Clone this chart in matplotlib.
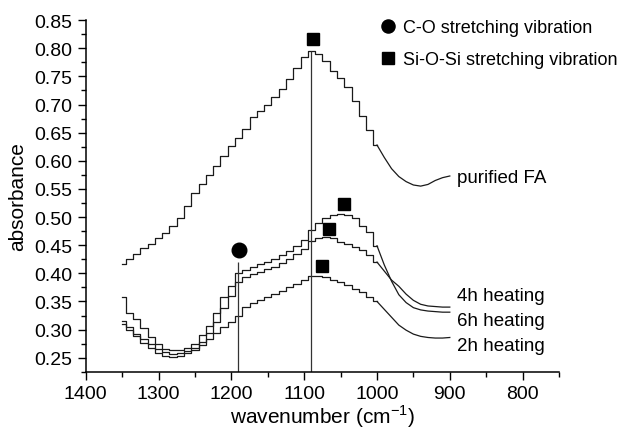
import numpy as np
import matplotlib
matplotlib.use('Agg')
from matplotlib import pyplot as plt
from matplotlib.ticker import MultipleLocator, FormatStrFormatter

plt.rcParams['font.family'] = ['Liberation Sans', 'DejaVu Sans']

# wavenumbers, 1350 -> 900 every 10 cm-1
wavenumber = np.arange(1350, 899, -10)

purified_fa = [0.417, 0.426, 0.435, 0.445, 0.453, 0.462, 0.471, 0.484, 0.499, 0.520,
               0.543, 0.558, 0.574, 0.590, 0.609, 0.626, 0.640, 0.657, 0.678, 0.688,
               0.700, 0.713, 0.728, 0.745, 0.765, 0.785, 0.795, 0.790, 0.778, 0.760,
               0.748, 0.732, 0.707, 0.680, 0.654, 0.628, 0.606, 0.586, 0.572, 0.563,
               0.557, 0.555, 0.558, 0.565, 0.570, 0.573]
heat_6h = [0.358, 0.330, 0.318, 0.302, 0.287, 0.274, 0.266, 0.263, 0.264, 0.268,
           0.275, 0.290, 0.307, 0.330, 0.358, 0.378, 0.400, 0.406, 0.411, 0.416,
           0.421, 0.426, 0.433, 0.440, 0.448, 0.460, 0.477, 0.490, 0.498, 0.503,
           0.506, 0.504, 0.498, 0.485, 0.473, 0.449, 0.415, 0.386, 0.362, 0.348,
           0.339, 0.335, 0.333, 0.332, 0.331, 0.331]
heat_4h = [0.315, 0.305, 0.293, 0.283, 0.274, 0.266, 0.260, 0.257, 0.258, 0.262,
           0.268, 0.278, 0.294, 0.314, 0.338, 0.360, 0.385, 0.393, 0.398, 0.403,
           0.407, 0.411, 0.418, 0.426, 0.434, 0.444, 0.458, 0.463, 0.464, 0.462,
           0.456, 0.452, 0.447, 0.442, 0.432, 0.420, 0.404, 0.388, 0.377, 0.363,
           0.352, 0.345, 0.342, 0.341, 0.340, 0.340]
heat_2h = [0.310, 0.300, 0.288, 0.277, 0.267, 0.259, 0.253, 0.251, 0.253, 0.258,
           0.264, 0.272, 0.283, 0.294, 0.304, 0.313, 0.325, 0.340, 0.348, 0.353,
           0.358, 0.363, 0.369, 0.375, 0.381, 0.388, 0.396, 0.396, 0.393, 0.389,
           0.384, 0.379, 0.373, 0.366, 0.358, 0.350, 0.336, 0.322, 0.308, 0.299,
           0.292, 0.288, 0.286, 0.285, 0.285, 0.286]

curve_labels = ['purified FA', '4h heating', '6h heating', '2h heating']
label_y = [0.571, 0.360, 0.316, 0.271]

# band markers
co_x, co_y = [1190], [0.441]
siosi_x = [1088, 1045, 1066, 1076]
siosi_y = [0.816, 0.523, 0.479, 0.413]
# guide lines (position, top)
guide_x = [1191, 1091]
guide_top = [0.42, 0.795]

fig = plt.figure(figsize=(6.26, 4.31), dpi=100)
ax = fig.add_axes([0.137, 0.135, 0.756, 0.816])

ink = '#1a1a1a'
wn = np.asarray(wavenumber)
split = wn >= 1000
smooth = wn <= 1000
for y in [purified_fa, heat_6h, heat_4h, heat_2h]:
    y = np.asarray(y)
    ax.plot(wn[split], y[split], drawstyle='steps-mid', color=ink, lw=0.9)
    ax.plot(wn[smooth], y[smooth], color=ink, lw=0.9)

ax.vlines(guide_x, 0.225, guide_top, color='#333333', lw=0.9)

h1, = ax.plot(co_x, co_y, 'o', color='black', ms=10.5, ls='none',
              label='C-O stretching vibration')
h2, = ax.plot(siosi_x, siosi_y, 's', color='black', ms=9, ls='none',
              label='Si-O-Si stretching vibration')

for lab, ly in zip(curve_labels, label_y):
    ax.text(890, ly, lab, fontsize=13.5, va='center', ha='left')

ax.set_xlim(1400, 750)
ax.set_ylim(0.225, 0.85)
ax.xaxis.set_major_locator(MultipleLocator(100))
ax.xaxis.set_minor_locator(MultipleLocator(50))
ax.yaxis.set_major_locator(MultipleLocator(0.05))
ax.yaxis.set_minor_locator(MultipleLocator(0.025))
ax.yaxis.set_major_formatter(FormatStrFormatter('%.2f'))
ax.set_xticks(np.arange(1400, 799, -100))
ax.set_yticks(np.arange(0.25, 0.851, 0.05))

for s in ['top', 'right']:
    ax.spines[s].set_visible(False)
for s in ['left', 'bottom']:
    ax.spines[s].set_linewidth(1.1)
ax.tick_params(which='major', direction='out', length=6, width=1.0, labelsize=14)
ax.tick_params(which='minor', direction='out', length=3.5, width=1.0)

ax.set_xlabel(r'wavenumber (cm$^{\mathregular{-1}}$)', fontsize=15, labelpad=0)
ax.set_ylabel('absorbance', fontsize=15, labelpad=5)

fig.legend(handles=[h1, h2], loc='upper left', bbox_to_anchor=(380 / 626, 1 - 20 / 431),
           frameon=False, fontsize=13, handlelength=0.9, handletextpad=0.35,
           labelspacing=0.85, borderpad=0, borderaxespad=0, markerscale=0.9)

plt.savefig('out.png', dpi=100)
